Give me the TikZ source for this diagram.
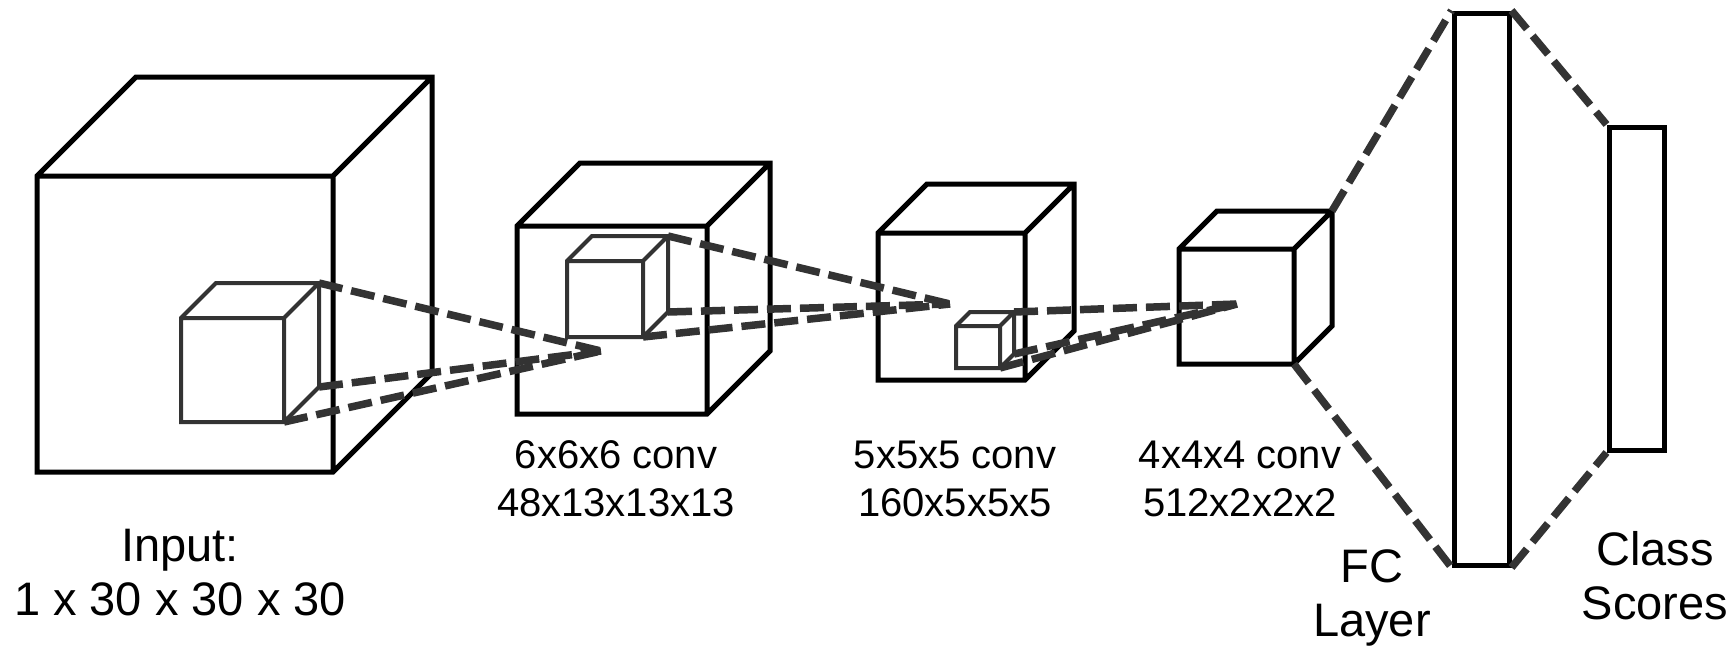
\documentclass[tikz,border=0pt]{standalone}
\usepackage{fontspec}
\setmainfont{Liberation Sans}
\definecolor{inkgray}{HTML}{333333}

% A box in oblique projection: front face at (x,y) of size w x h, receding by d.
% #1 name, #2 x, #3 y, #4 w, #5 h, #6 d, #7 draw options
\newcommand\drawbox[7]{%
  \coordinate (#1-ftl) at (#2,#3);
  \coordinate (#1-ftr) at ({#2+#4},#3);
  \coordinate (#1-fbr) at ({#2+#4},{#3+#5});
  \coordinate (#1-fbl) at (#2,{#3+#5});
  \coordinate (#1-btl) at ({#2+#6},{#3-#6});
  \coordinate (#1-btr) at ({#2+#4+#6},{#3-#6});
  \coordinate (#1-bbr) at ({#2+#4+#6},{#3+#5-#6});
  \draw[#7] (#1-ftl) -- (#1-btl) -- (#1-btr) -- (#1-bbr) -- (#1-fbr) -- (#1-fbl) -- cycle
    (#1-ftl) -- (#1-ftr) -- (#1-fbr) (#1-ftr) -- (#1-btr);
}

\tikzset{
  volume/.style={line width=5pt, black, fill=white},
  kernel/.style={line width=4pt, inkgray, fill=white},
  link/.style={line width=7.5pt, inkgray, dash pattern=on 24pt off 9pt},
  layerbar/.style={draw=black, line width=5pt, fill=white, inner sep=0pt},
  biglabel/.style={align=center, anchor=base, font=\fontsize{47}{54}\selectfont},
  convlabel/.style={align=center, anchor=base, font=\fontsize{40}{48}\selectfont},
}

\begin{document}
\begin{tikzpicture}[x=1pt, y=-1pt]
\useasboundingbox (0,0) rectangle (1731,646);

% feature volumes
\drawbox{vin}{37}{176}{296}{296}{99}{volume}
\drawbox{vc1}{517}{226}{190}{188}{63}{volume}
\drawbox{vc2}{878}{233}{147}{147}{49}{volume}
\drawbox{vc3}{1179}{249}{115}{115}{38}{volume}

% convolution kernels
\drawbox{k1}{181}{318}{103}{104}{35}{kernel}
\drawbox{k2}{567}{261}{76}{76}{25}{kernel}
\drawbox{k3}{956}{326}{44}{42}{14}{kernel}

% fully connected layer and class scores
\node[layerbar, minimum width=55pt, minimum height=552pt] (fc) at (1481.5,289) {};
\node[layerbar, minimum width=55pt, minimum height=323pt] (cls) at (1636.5,288.5) {};

% receptive field targets
\coordinate (p1) at (601,351);
\coordinate (p2) at (950,304);
\coordinate (p3) at (1237,304);

% receptive field links
\foreach \k/\p in {k1/p1, k2/p2, k3/p3} {
  \draw[link] (\k-btr) -- (\p);
  \draw[link] (\k-bbr) -- (\p);
  \draw[link] (\k-fbr) -- (\p);
}
\draw[link] (vc3-btr) -- (fc.north west);
\draw[link] (vc3-fbr) -- (fc.south west);
\draw[link] (fc.north east) -- (cls.north west);
\draw[link] (fc.south east) -- (cls.south west);

% labels (anchored at the baseline of the last line)
\node[biglabel] (lin) at (180,615) {Input:\\1 x 30 x 30 x 30};
\node[convlabel] (lc1) at (616,516) {6x6x6 conv\\48x13x13x13};
\node[convlabel] (lc2) at (955,516) {5x5x5 conv\\160x5x5x5};
\node[convlabel] (lc3) at (1240,516) {4x4x4 conv\\512x2x2x2};
\node[biglabel] (lfc) at (1372,636) {FC\\Layer};
\node[biglabel] (lcls) at (1655,619) {Class\\Scores};
\end{tikzpicture}
\end{document}
